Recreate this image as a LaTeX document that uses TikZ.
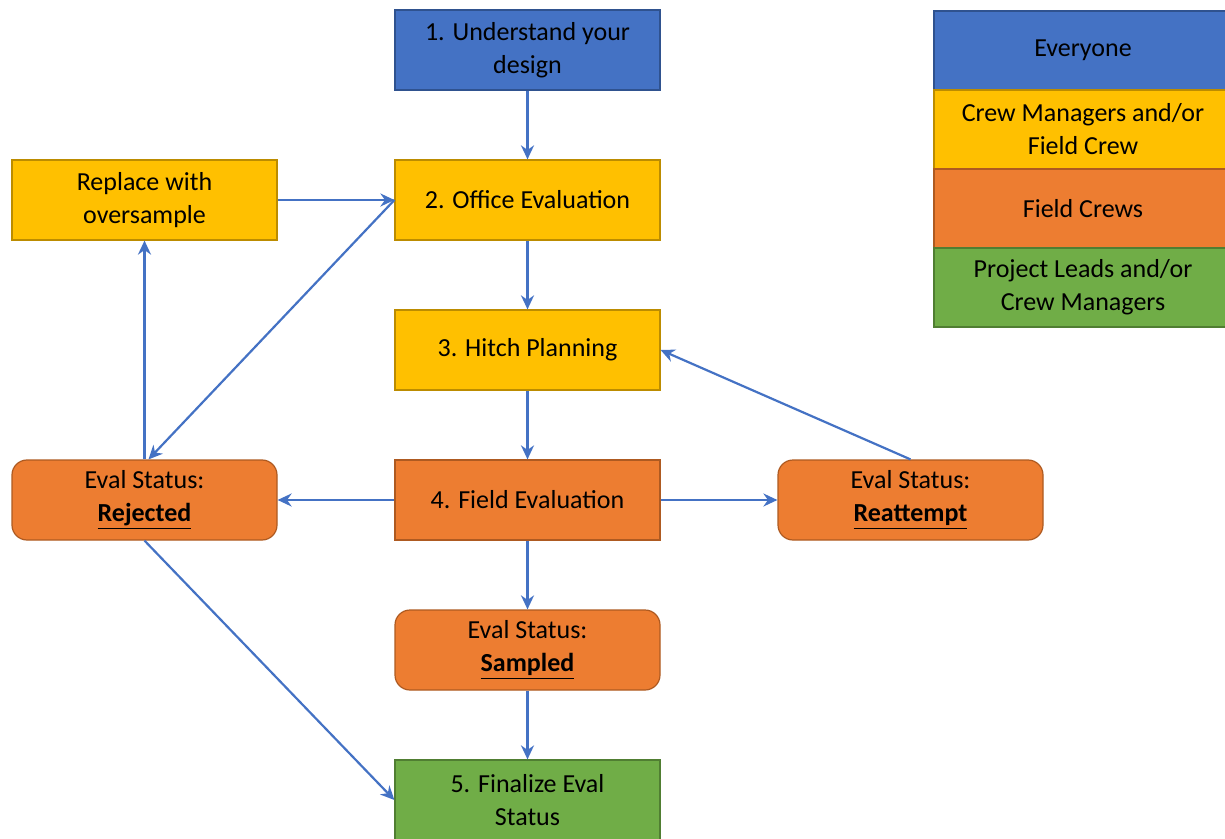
\documentclass[tikz,border=0pt]{standalone}
\usepackage{fontspec}
\setmainfont{Carlito}
\usepackage{xcolor}
\usepackage{tikz}
\usetikzlibrary{arrows.meta, positioning, shapes}

\definecolor{evblue}{HTML}{4472C4}
\definecolor{evblueline}{HTML}{2F528F}
\definecolor{evyellow}{HTML}{FFC000}
\definecolor{evyellowline}{HTML}{BC8C00}
\definecolor{evorange}{HTML}{ED7D31}
\definecolor{evorangeline}{HTML}{AE5A21}
\definecolor{evgreen}{HTML}{70AD47}
\definecolor{evgreenline}{HTML}{507E32}

\tikzset{
  stepbox/.style={rectangle, draw, line width=0.6pt, minimum width=132.5pt, minimum height=40pt,
    align=center, font=\fontsize{13}{16.5}\selectfont},
  everyone/.style={stepbox, fill=evblue, draw=evblueline},
  crew/.style={stepbox, fill=evyellow, draw=evyellowline},
  field/.style={stepbox, fill=evorange, draw=evorangeline},
  lead/.style={stepbox, fill=evgreen, draw=evgreenline},
  status/.style={field, rounded corners=7.5pt},
  legendbox/.style={minimum width=149pt, minimum height=39.5pt}
}

\begin{document}
\begin{tikzpicture} [x=0.5pt, y=-0.5pt, node distance = 75pt and 191.5pt, on grid]
\useasboundingbox (0,0) rectangle (1225,839);
\node (1) [everyone] at (527.5,50) {1. Understand your\\design};
\node (2) [crew, below = of 1] {2. Office Evaluation};
\node (3) [crew, below = of 2] {3. Hitch Planning};
\node (4) [field, below = of 3] {4. Field Evaluation};
\node (5) [status, below = of 4] {Eval Status:\\\underline{\textbf{Sampled}}};
\node (6) [lead, below = of 5] {5. Finalize Eval\\Status};
\node (7) [crew, left = of 2] {Replace with\\oversample};
\node (8) [status, left = of 4] {Eval Status:\\\underline{\textbf{Rejected}}};
\node (9) [status, right = of 4] {Eval Status:\\\underline{\textbf{Reattempt}}};

% legend
\node (10) [everyone, legendbox] at (1083,50.5) {Everyone};
\node (11) [crew, legendbox, below = 39.5pt of 10] {Crew Managers and/or\\Field Crew};
\node (12) [field, legendbox, below = 39.5pt of 11] {Field Crews};
\node (13) [lead, legendbox, below = 39.5pt of 12] {Project Leads and/or\\Crew Managers};

\path [-{Stealth[length=7pt, width=6.5pt]}, line width=1.1pt, color=evblue]
    (1) edge (2)
    (2) edge (3)
    (3) edge (4)

    (4) edge (8)
    (4) edge (9)
    (4) edge (5)
    (5) edge (6)

    (7) edge (2.west)
    (2.west) edge ([xshift=2pt]8.north)
    (8.north) edge (7.south)
    (8.south) edge (6.west)
    (9.north) edge (3.east);
\end{tikzpicture}
\end{document}
